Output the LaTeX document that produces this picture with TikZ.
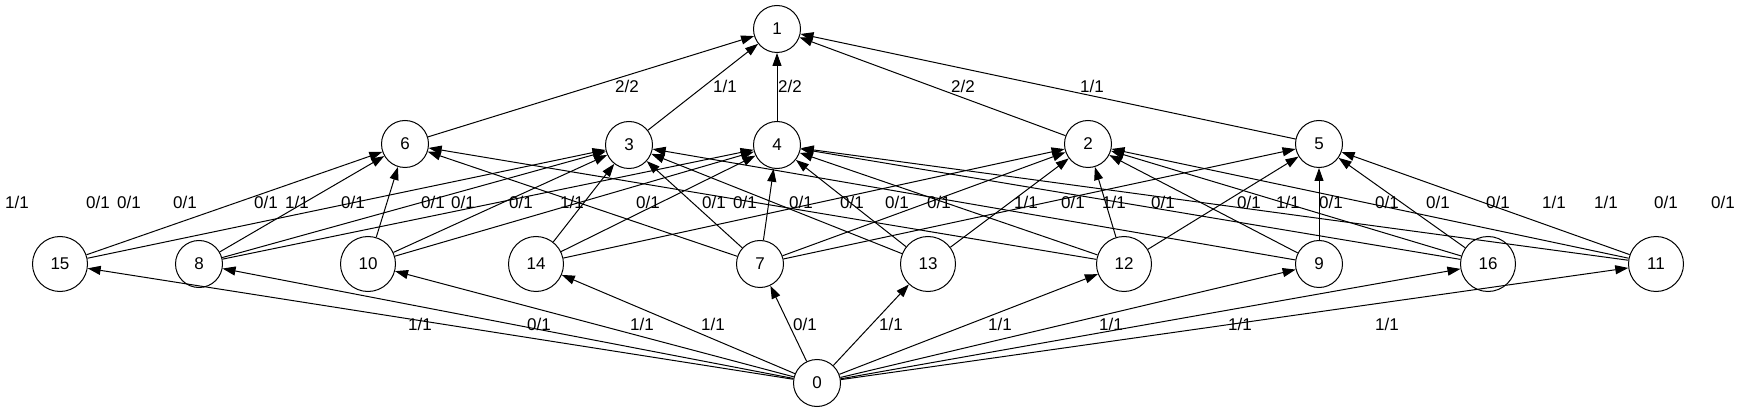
\documentclass[tikz,border=0pt]{standalone}
\usepackage{fontspec}
\setmainfont{Liberation Sans}
\usetikzlibrary{arrows.meta}
\begin{document}
\begin{tikzpicture}[x=1pt,y=-1pt,
  vtx/.style={draw, circle, line width=1pt, minimum size=47pt, inner sep=0pt, font=\fontsize{17}{17}\selectfont},
  vtxw/.style={vtx, minimum size=55pt},
  lbl/.style={font=\fontsize{17}{17}\selectfont, inner sep=0pt},
  edge/.style={line width=1pt, -{Triangle[length=13pt,width=9pt]}}]
\useasboundingbox (0,0) rectangle (1741,414);
% top
\node[vtx] (n1) at (777,29) {1};
% middle row
\node[vtx] (n6) at (405,144) {6};
\node[vtx] (n3) at (629,145) {3};
\node[vtx] (n4) at (777,145) {4};
\node[vtx] (n2) at (1088,144) {2};
\node[vtx] (n5) at (1319,144) {5};
% lower row
\node[vtxw] (n15) at (60,264) {15};
\node[vtx] (n8) at (199,264) {8};
\node[vtxw] (n10) at (368,264) {10};
\node[vtxw] (n14) at (536,264) {14};
\node[vtx] (n7) at (760,264) {7};
\node[vtxw] (n13) at (928,264) {13};
\node[vtxw] (n12) at (1124,264) {12};
\node[vtx] (n9) at (1319,264) {9};
\node[vtxw] (n16) at (1488,264) {16};
\node[vtxw] (n11) at (1656,264) {11};
% source
\node[vtx] (n0) at (817,383) {0};

% edges to 1
\foreach \s in {6,3,4,2,5} \draw[edge] (n\s) -- (n1);
% edges from 0
\foreach \t in {15,8,10,14,7,13,12,9,16,11} \draw[edge] (n0) -- (n\t);
% middle edges
\foreach \s/\t in {15/6,15/3, 8/6,8/3,8/4, 10/6,10/3,10/4, 14/3,14/4,14/2,
  7/6,7/3,7/4,7/2,7/5, 13/3,13/4,13/2, 12/6,12/4,12/2,12/5,
  9/3,9/2,9/5, 16/4,16/2,16/5, 11/4,11/2,11/5}
  \draw[edge] (n\s) -- (n\t);

% top labels
\node[lbl] (t1) at (627,86) {2/2};
\node[lbl] (t2) at (725,86) {1/1};
\node[lbl] (t3) at (790,86) {2/2};
\node[lbl] (t4) at (963,86) {2/2};
\node[lbl] (t5) at (1092,86) {1/1};
% bottom labels
\node[lbl] (b1) at (420,324) {1/1};
\node[lbl] (b2) at (539,324) {0/1};
\node[lbl] (b3) at (642,324) {1/1};
\node[lbl] (b4) at (713,324) {1/1};
\node[lbl] (b5) at (805,324) {0/1};
\node[lbl] (b6) at (891,324) {1/1};
\node[lbl] (b7) at (1000,324) {1/1};
\node[lbl] (b8) at (1111,324) {1/1};
\node[lbl] (b9) at (1240,324) {1/1};
\node[lbl] (b10) at (1387,324) {1/1};
% middle labels
\foreach \x/\txt [count=\i] in {17/1\slash 1, 98/0\slash 1, 129/0\slash 1, 185/0\slash 1,
  266/0\slash 1, 297/1\slash 1, 353/0\slash 1, 433/0\slash 1, 463/0\slash 1, 521/0\slash 1,
  572/1\slash 1, 648/0\slash 1, 714/0\slash 1, 745/0\slash 1, 801/0\slash 1, 852/0\slash 1,
  897/0\slash 1, 939/0\slash 1, 1026/1\slash 1, 1073/0\slash 1, 1114/1\slash 1, 1163/0\slash 1,
  1249/0\slash 1, 1288/1\slash 1, 1331/0\slash 1, 1387/0\slash 1, 1438/0\slash 1, 1498/0\slash 1,
  1554/1\slash 1, 1606/1\slash 1, 1666/0\slash 1, 1723/0\slash 1}
  \node[lbl] (m\i) at (\x,202) {\txt};
\end{tikzpicture}
\end{document}
